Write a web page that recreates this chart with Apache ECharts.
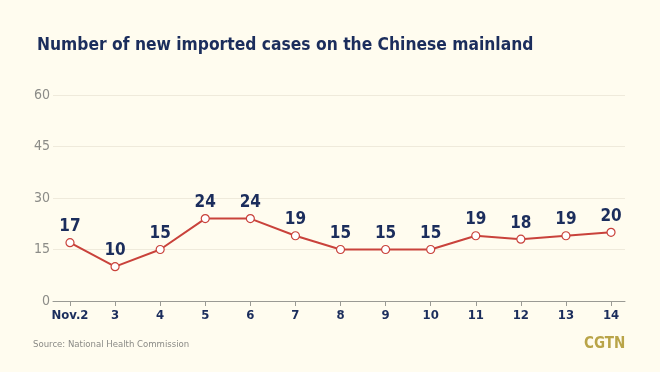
<!DOCTYPE html>
<html><head><meta charset="utf-8">
<script src="https://cdn.jsdelivr.net/npm/echarts@6/dist/echarts.min.js"></script>
<style>html,body{margin:0;padding:0;background:#fffcef;}#c{width:660px;height:372px;}</style>
</head><body><div id="c"></div>
<script>
const categories = ['Nov.2','3','4','5','6','7','8','9','10','11','12','13','14'];
const values = [17,10,15,24,24,19,15,15,15,19,18,19,20];
const yTicks = [0,15,30,45,60];

const chart = echarts.init(document.getElementById('c'));
const idx = categories.map((c,i)=>i);
chart.setOption({
  backgroundColor:'#fffcef',
  animation:false,
  title:{
    text:'Number of new imported cases on the Chinese mainland',
    left:32, top:32,
    textStyle:{fontFamily:'DejaVu Sans Condensed, DejaVu Sans', fontWeight:'bold', fontSize:17.3, color:'#1b2d5c'}
  },
  graphic:[
    {type:'text', left:33, top:340, style:{text:'Source: National Health Commission', fontFamily:'DejaVu Sans Condensed, DejaVu Sans', fontSize:9.5, fill:'#8a8a86'}},
    {type:'text', left:584, top:337, style:{text:'CGTN', fontFamily:'DejaVu Sans Condensed, DejaVu Sans', fontWeight:'bold', fontSize:15, fill:'#b9a448'}}
  ],
  grid:{left:53, right:35, top:95, bottom:71, containLabel:false},
  xAxis:{
    type:'value', min:-0.377, max:12.31,
    axisLine:{show:true, lineStyle:{color:'#9a9a94', width:1}},
    axisTick:{show:true, customValues:idx, length:5, lineStyle:{color:'#9a9a94'}},
    axisLabel:{show:true, customValues:idx, formatter:v=>categories[Math.round(v)], margin:8,
      fontFamily:'DejaVu Sans Condensed, DejaVu Sans', fontWeight:'bold', fontSize:13, color:'#1b2d5c'},
    splitLine:{show:false}
  },
  yAxis:{
    type:'value', min:yTicks[0], max:yTicks[yTicks.length-1], interval:15,
    axisLine:{show:false}, axisTick:{show:false},
    axisLabel:{margin:3, fontFamily:'DejaVu Sans Condensed, DejaVu Sans', fontSize:14, color:'#8c8c88'},
    splitLine:{show:true, lineStyle:{color:'#efeadb', width:1}}
  },
  series:[{
    type:'line',
    data:values.map((v,i)=>[i,v]),
    lineStyle:{color:'#c9423b', width:2},
    itemStyle:{color:'#ffffff', borderColor:'#c9423b', borderWidth:1.2},
    symbol:'circle', symbolSize:8,
    label:{show:true, position:'top', distance:3, formatter:p=>p.value[1],
      fontFamily:'DejaVu Sans Condensed, DejaVu Sans', fontWeight:'bold', fontSize:17, color:'#1b2d5c'}
  }]
});
</script></body></html>
